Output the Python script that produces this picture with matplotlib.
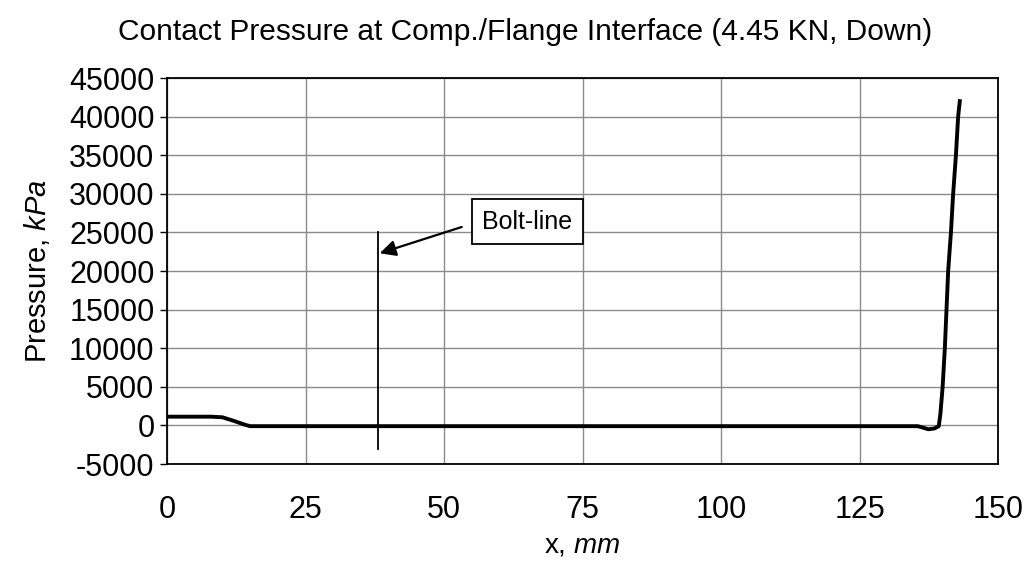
import matplotlib
matplotlib.use("Agg")
import matplotlib.pyplot as plt

plt.rcParams['font.family'] = ['Liberation Sans', 'DejaVu Sans']
plt.rcParams['mathtext.fontset'] = 'custom'
plt.rcParams['mathtext.rm'] = 'Liberation Sans'
plt.rcParams['mathtext.it'] = 'Liberation Sans:italic'
plt.rcParams['axes.unicode_minus'] = False

# Data
x_mm = [0, 8, 10, 12, 14, 15, 40, 80, 120, 135.5, 136.5, 137.4, 138.5, 139.3,
        139.6, 140.0, 140.4, 141.0, 141.5, 141.9, 142.4, 142.8, 143.1]
pressure_kpa = [1130, 1130, 1050, 600, 100, -100, -100, -100, -100, -100, -300, -500, -400, -100,
                1500, 5000, 10000, 20000, 25000, 30000, 35000, 40000, 42000]

bolt_x = 38
bolt_y = [-3000, 25000]

x_ticks = [0, 25, 50, 75, 100, 125, 150]
y_ticks = [-5000, 0, 5000, 10000, 15000, 20000, 25000, 30000, 35000, 40000, 45000]

fig = plt.figure(figsize=(10.29, 5.64), dpi=100)
ax = fig.add_axes([0.1623, 0.1773, 0.9699 - 0.1623, 0.8617 - 0.1773])

ax.set_xlim(0, 150)
ax.set_ylim(-5000, 45000)
ax.set_xticks(x_ticks)
ax.set_yticks(y_ticks)
ax.grid(True, color='#8a8a8a', linewidth=1.0)
ax.set_axisbelow(True)

ax.plot(x_mm, pressure_kpa, color='black', linewidth=2.8, solid_joinstyle='round', zorder=3)
ax.plot([bolt_x, bolt_x], bolt_y, color='black', linewidth=1.3, zorder=3)

for s in ax.spines.values():
    s.set_linewidth(1.3)
    s.set_color('black')

ax.tick_params(axis='y', labelsize=22, length=5, width=1, direction='out', pad=4)
ax.tick_params(axis='x', labelsize=22, length=0, pad=22)

ax.set_ylabel(r'Pressure, $\mathit{kPa}$', fontsize=21, labelpad=12)
fig.text(582 / 1029, 1 - 546 / 564, r'x, $\mathit{mm}$', ha='center', va='center', fontsize=20)

fig.text(525 / 1029, 1 - 32 / 564, 'Contact Pressure at Comp./Flange Interface (4.45 KN, Down)',
         ha='center', va='center', fontsize=21.5)

ax.annotate('', xy=(38.4, 22300), xytext=(53.2, 25700),
            arrowprops=dict(arrowstyle='-|>', color='black', lw=1.6, mutation_scale=24,
                            shrinkA=0, shrinkB=0), zorder=4)
ax.text(65.0, 26350, 'Bolt-line', ha='center', va='center', fontsize=18,
        bbox=dict(boxstyle='square,pad=0.42', facecolor='white', edgecolor='black', linewidth=1.3),
        zorder=5)

fig.savefig('out.png', dpi=100)
